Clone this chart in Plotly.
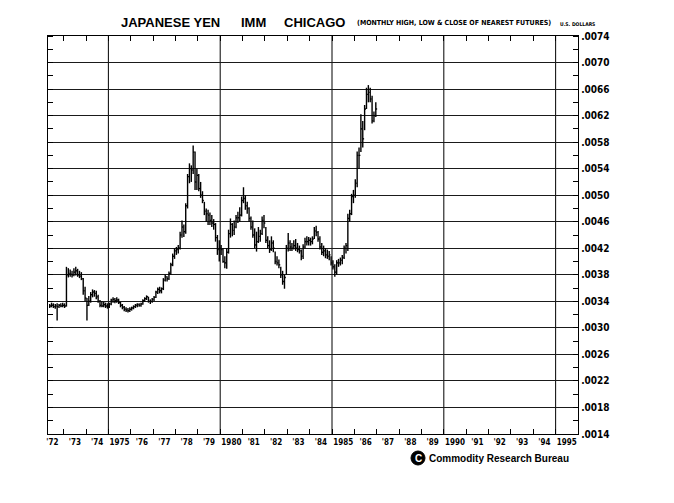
import plotly.graph_objects as go

# -----------------------------
# Data: monthly high / low / close of nearest futures, May 1972 - Dec 1986
# -----------------------------
start_year = 1972
start_month = 5

high = [
    # 1972 (May-Dec)
    .00336, .00338, .00337, .00336, .00337, .00336, .00337, .00338,
    # 1973
    .00337, .00392, .00390, .00388, .00386, .00390, .00392, .00389, .00386, .00384, .00375, .00362,
    # 1974
    .00345, .00348, .00354, .00358, .00357, .00356, .00350, .00342, .00340, .00339, .00338, .00337,
    # 1975
    .00338, .00344, .00346, .00345, .00346, .00344, .00339, .00336, .00333, .00331, .00330, .00331,
    # 1976
    .00332, .00334, .00336, .00337, .00337, .00338, .00343, .00346, .00349, .00347, .00343, .00345,
    # 1977
    .00348, .00356, .00361, .00362, .00361, .00375, .00380, .00378, .00385, .00398, .00412, .00420,
    # 1978
    .00422, .00425, .00445, .00462, .00456, .00488, .00532, .00548, .00545, .00575, .00566, .00540,
    # 1979
    .00532, .00520, .00506, .00490, .00480, .00478, .00474, .00470, .00464, .00458, .00440, .00432,
    # 1980
    .00425, .00420, .00408, .00420, .00448, .00465, .00458, .00462, .00470, .00475, .00482, .00498,
    # 1981
    .00512, .00500, .00490, .00482, .00468, .00462, .00450, .00445, .00452, .00448, .00468, .00470,
    # 1982
    .00452, .00438, .00432, .00438, .00432, .00415, .00408, .00403, .00392, .00386, .00380, .00425,
    # 1983
    .00443, .00432, .00428, .00432, .00434, .00428, .00424, .00418, .00426, .00436, .00438, .00437,
    # 1984
    .00436, .00438, .00452, .00454, .00446, .00438, .00428, .00424, .00420, .00418, .00416, .00408,
    # 1985
    .00402, .00396, .00402, .00404, .00406, .00410, .00424, .00428, .00472, .00478, .00502, .00508,
    # 1986
    .00524, .00566, .00572, .00622, .00612, .00636, .00662, .00666, .00662, .00650, .00626, .00640,
]

low = [
    # 1972 (May-Dec)
    .00330, .00331, .00330, .00329, .00311, .00330, .00331, .00331,
    # 1973
    .00330, .00332, .00376, .00377, .00376, .00378, .00379, .00377, .00375, .00372, .00350, .00340,
    # 1974
    .00311, .00333, .00338, .00346, .00347, .00343, .00338, .00331, .00331, .00331, .00330, .00329,
    # 1975
    .00330, .00334, .00338, .00337, .00338, .00336, .00331, .00328, .00325, .00324, .00323, .00324,
    # 1976
    .00326, .00328, .00330, .00331, .00332, .00332, .00335, .00339, .00342, .00338, .00336, .00338,
    # 1977
    .00340, .00345, .00351, .00352, .00352, .00357, .00370, .00370, .00372, .00380, .00393, .00404,
    # 1978
    .00410, .00412, .00418, .00436, .00437, .00442, .00480, .00518, .00520, .00532, .00508, .00508,
    # 1979
    .00506, .00496, .00488, .00470, .00460, .00455, .00455, .00452, .00448, .00430, .00410, .00400,
    # 1980
    .00410, .00398, .00390, .00389, .00412, .00436, .00438, .00440, .00450, .00458, .00460, .00468,
    # 1981
    .00488, .00478, .00472, .00460, .00448, .00436, .00420, .00415, .00428, .00430, .00440, .00450,
    # 1982
    .00428, .00420, .00413, .00416, .00414, .00396, .00394, .00390, .00375, .00365, .00359, .00380,
    # 1983
    .00415, .00416, .00416, .00418, .00416, .00414, .00412, .00402, .00404, .00420, .00424, .00424,
    # 1984
    .00424, .00426, .00434, .00438, .00430, .00418, .00410, .00408, .00405, .00404, .00402, .00394,
    # 1985
    .00388, .00377, .00380, .00392, .00394, .00396, .00404, .00412, .00416, .00460, .00470, .00488,
    # 1986
    .00496, .00512, .00540, .00565, .00572, .00598, .00630, .00640, .00640, .00608, .00610, .00618,
]

close = [
    # 1972 (May-Dec)
    .00333, .00334, .00332, .00333, .00332, .00334, .00333, .00334,
    # 1973
    .00333, .00380, .00382, .00381, .00380, .00384, .00386, .00380, .00378, .00374, .00356, .00345,
    # 1974
    .00334, .00340, .00350, .00354, .00352, .00347, .00340, .00334, .00333, .00335, .00333, .00332,
    # 1975
    .00336, .00342, .00343, .00341, .00342, .00338, .00334, .00331, .00328, .00327, .00326, .00328,
    # 1976
    .00330, .00332, .00334, .00335, .00334, .00336, .00341, .00344, .00347, .00340, .00340, .00343,
    # 1977
    .00346, .00354, .00358, .00356, .00359, .00372, .00377, .00374, .00382, .00395, .00408, .00416,
    # 1978
    .00418, .00421, .00440, .00452, .00445, .00484, .00528, .00540, .00538, .00565, .00520, .00530,
    # 1979
    .00510, .00500, .00492, .00476, .00472, .00470, .00462, .00458, .00456, .00436, .00418, .00420,
    # 1980
    .00418, .00400, .00398, .00414, .00442, .00456, .00447, .00452, .00466, .00466, .00470, .00492,
    # 1981
    .00495, .00484, .00480, .00465, .00452, .00440, .00425, .00430, .00438, .00442, .00462, .00458,
    # 1982
    .00432, .00424, .00418, .00428, .00420, .00400, .00398, .00395, .00380, .00370, .00376, .00420,
    # 1983
    .00428, .00422, .00420, .00424, .00420, .00418, .00416, .00408, .00422, .00430, .00430, .00432,
    # 1984
    .00430, .00434, .00446, .00444, .00434, .00422, .00414, .00416, .00410, .00408, .00410, .00398,
    # 1985
    .00392, .00384, .00398, .00398, .00402, .00406, .00420, .00424, .00465, .00472, .00498, .00500,
    # 1986
    .00518, .00560, .00560, .00600, .00585, .00630, .00652, .00655, .00645, .00612, .00620, .00630,
]

year_labels = [
    "'72", "'73", "'74", "1975", "'76", "'77", "'78", "'79",
    "1980", "'81", "'82", "'83", "'84", "1985", "'86", "'87", "'88", "'89",
    "1990", "'91", "'92", "'93", "'94", "1995",
]
label_years = list(range(1972, 1996))
tick_years = list(range(1973, 1996))
grid_years = [1975, 1980, 1985, 1990, 1995]

price_ticks = [.0014, .0018, .0022, .0026, .0030, .0034, .0038, .0042,
               .0046, .0050, .0054, .0058, .0062, .0066, .0070, .0074]
price_labels = [".0014", ".0018", ".0022", ".0026", ".0030", ".0034", ".0038", ".0042",
                ".0046", ".0050", ".0054", ".0058", ".0062", ".0066", ".0070", ".0074"]

INK = "#000000"
NARROW = "Liberation Sans Narrow, DejaVu Sans Condensed, Arial Narrow, Liberation Sans, sans-serif"
SANS = "Liberation Sans, Arial, Helvetica, sans-serif"

# page offset of the browser (body margin), the plot box is placed to land on 48..578 x 36..434
OFF = 8
PL, PR, PT, PB = 48, 578, 36, 434

# -----------------------------
# Bars: vertical high-low line plus a close tick to the right
# -----------------------------
t = [start_year + (start_month - 1 + i + 0.5) / 12 for i in range(len(close))]
close_tick = 0.06

xs, ys = [], []
for ti, h, l, c in zip(t, high, low, close):
    xs += [ti, ti, None, ti, ti + close_tick, None]
    ys += [l, h, None, c, c, None]

fig = go.Figure()
fig.add_trace(go.Scatter(
    x=xs, y=ys, mode="lines",
    line=dict(color=INK, width=1.4),
    hoverinfo="skip",
))

# -----------------------------
# Vertical grid at 5-year marks
# -----------------------------
for gy in grid_years:
    fig.add_shape(type="line", xref="x", yref="paper", x0=gy, x1=gy, y0=0, y1=1,
                  line=dict(color=INK, width=1), layer="below")

# -----------------------------
# Layout
# -----------------------------
fig.update_layout(
    width=674, height=503,
    margin=dict(l=PL - OFF, r=674 - (PR - OFF), t=PT - OFF, b=503 - (PB - OFF)),
    paper_bgcolor="white", plot_bgcolor="white",
    showlegend=False,
    xaxis=dict(
        range=[1972.3, 1996],
        tickvals=[y + 0.5 for y in label_years],
        ticktext=year_labels,
        ticks="",
        tickfont=dict(family=NARROW, size=8, color=INK, weight="bold"),
        showgrid=False, zeroline=False,
        showline=True, linecolor=INK, linewidth=1.3, mirror="ticks",
        minor=dict(tickvals=tick_years, ticks="inside", ticklen=5,
                   tickcolor=INK, tickwidth=1, showgrid=False),
    ),
    yaxis=dict(
        side="right",
        range=[.0014, .0074],
        tickvals=price_ticks,
        ticktext=price_labels,
        ticks="",
        tickfont=dict(family=NARROW, size=10, color=INK, weight="bold"),
        showgrid=True, gridcolor="#1a1a1a", gridwidth=1,
        zeroline=False,
        showline=True, linecolor=INK, linewidth=1.3, mirror="ticks",
        minor=dict(dtick=.0002, tick0=.0014, ticks="inside", ticklen=5,
                   tickcolor=INK, tickwidth=1, showgrid=False),
    ),
)

# -----------------------------
# Header texts
# -----------------------------
def px_x(p):
    return (p - PL) / (PR - PL)


def px_y(p):
    return (PB - p) / (PB - PT)


header = [
    ("JAPANESE YEN", 170, 13, SANS),
    ("IMM", 253, 13, SANS),
    ("CHICAGO", 314, 13, SANS),
    ("(MONTHLY HIGH, LOW & CLOSE OF NEAREST FUTURES)", 454, 7, NARROW),
]
for text, cx, size, fam in header:
    fig.add_annotation(x=px_x(cx), y=px_y(23), xref="paper", yref="paper",
                       text=text, showarrow=False, xanchor="center", yanchor="middle",
                       font=dict(family=fam, size=size, color=INK, weight="bold"))

fig.add_annotation(x=px_x(577), y=px_y(24), xref="paper", yref="paper",
                   text="U.S. DOLLARS", showarrow=False, xanchor="center", yanchor="middle",
                   font=dict(family=NARROW, size=5, color=INK, weight="bold"))

# -----------------------------
# Publisher mark
# -----------------------------
fig.add_shape(type="circle", xref="paper", yref="paper",
              x0=px_x(411), x1=px_x(425), y0=px_y(465), y1=px_y(451),
              fillcolor=INK, line=dict(color=INK, width=1))
fig.add_annotation(x=px_x(418), y=px_y(458), xref="paper", yref="paper",
                   text="C", showarrow=False, xanchor="center", yanchor="middle",
                   font=dict(family=SANS, size=10, color="white", weight="bold"))
fig.add_annotation(x=px_x(427), y=px_y(458), xref="paper", yref="paper",
                   text="Commodity Research Bureau", showarrow=False,
                   xanchor="left", yanchor="middle",
                   font=dict(family=SANS, size=10, color=INK, weight="bold"))

fig.write_html("out.html")
